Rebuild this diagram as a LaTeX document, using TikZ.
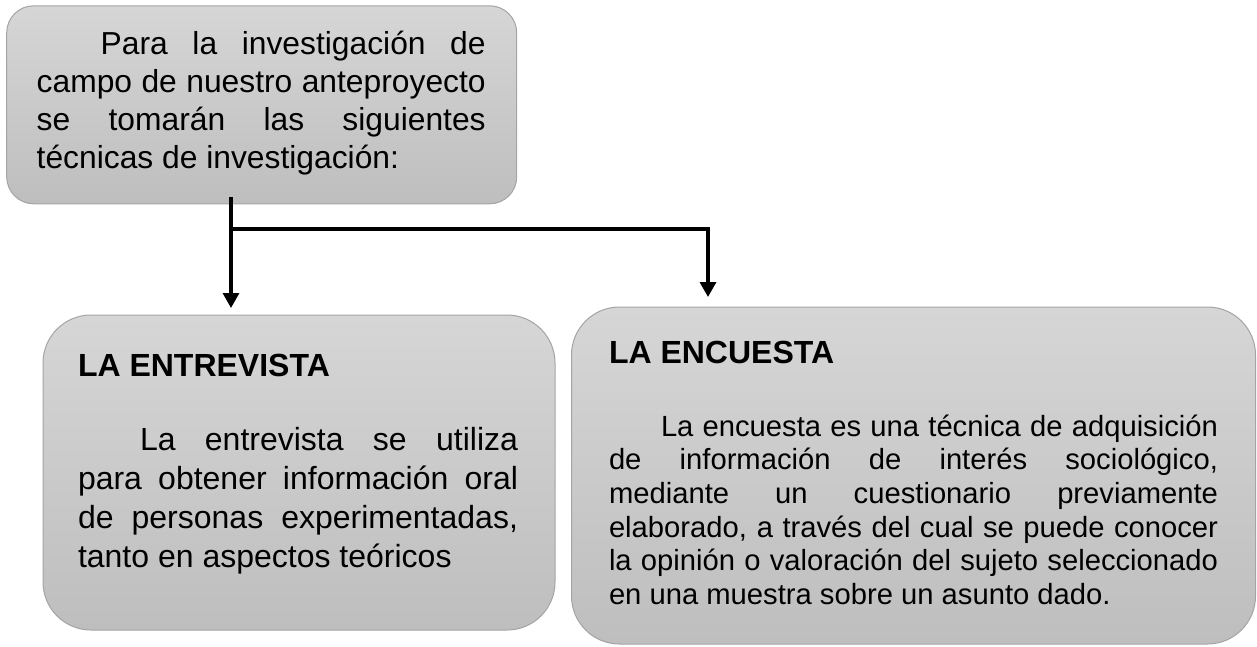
\documentclass[tikz,border=0pt]{standalone}
\usepackage{fontspec}
\setmainfont{Liberation Sans}
\usetikzlibrary{arrows.meta}
\definecolor{boxtop}{HTML}{D6D6D6}
\definecolor{boxbot}{HTML}{BEBEBE}
\definecolor{boxedge}{HTML}{A4A4A4}
\begin{document}
\begin{tikzpicture}[x=1pt,y=-1pt,
  panel/.style={draw=boxedge, line width=1pt, top color=boxtop, bottom color=boxbot, inner sep=0pt},
  conn/.style={line width=3.3pt, draw=black},
  arrowc/.style={conn, -{Triangle[width=16pt,length=15pt]}},
  txt/.style={anchor=base west, inner sep=0pt, outer sep=0pt},
  ttl/.style={txt, font=\fontsize{32}{38}\selectfont\bfseries}]
\useasboundingbox (0,0) rectangle (1257,646);

% boxes
\node[panel, rounded corners=27pt, minimum width=510pt, minimum height=198pt] (top) at (261.7,104.8) {};
\node[panel, rounded corners=48pt, minimum width=512pt, minimum height=315pt] (ent) at (299,472.5) {};
\node[panel, rounded corners=48pt, minimum width=684pt, minimum height=337pt] (enc) at (913.5,475.5) {};

% top text
\node[txt] (toptext) at (36.7,54) {\vtop{\hsize=449pt\fontsize{31.8}{38.2}\selectfont
\hbox to \hsize{\hskip 64pt Para la investigación de}
\hbox to \hsize{campo de nuestro anteproyecto}
\hbox to \hsize{se tomarán las siguientes}
\hbox{técnicas de investigación:}}};

% left box text
\node[ttl] (enttitle) at (78,376) {LA ENTREVISTA};
\node[txt] (enttext) at (78,450) {\vtop{\hsize=440pt\fontsize{32}{39.3}\selectfont
\hbox to \hsize{\hskip 62pt La entrevista se utiliza}
\hbox to \hsize{para obtener información oral}
\hbox to \hsize{de personas experimentadas,}
\hbox{tanto en aspectos teóricos}}};

% right box text
\node[ttl] (enctitle) at (609,363) {LA ENCUESTA};
\node[txt] (enctext) at (609,436) {\vtop{\hsize=609pt\fontsize{29.2}{33.7}\selectfont
\hbox to \hsize{\hskip 52pt La encuesta es una técnica de adquisición}
\hbox to \hsize{de información de interés sociológico,}
\hbox to \hsize{mediante un cuestionario previamente}
\hbox to \hsize{elaborado, a través del cual se puede conocer}
\hbox to \hsize{la opinión o valoración del sujeto seleccionado}
\hbox{en una muestra sobre un asunto dado.}}};

% connectors
\coordinate (src) at (231,197);
\coordinate (junc) at (231,229);
\coordinate (tipL) at (231,308);
\coordinate (tipR) at (708,297);
\draw[arrowc] (src) -- (tipL);
\draw[arrowc] (junc) -| (tipR);
\end{tikzpicture}
\end{document}
